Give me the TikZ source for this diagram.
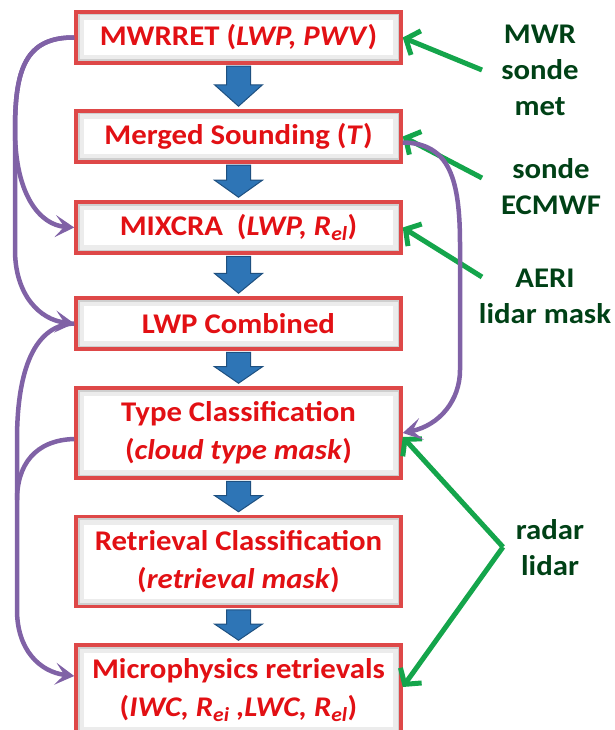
\documentclass[tikz,border=0pt]{standalone}
\usepackage{fontspec}
\setmainfont{Carlito}[FakeStretch=1.08]
\usetikzlibrary{arrows.meta, positioning, calc}
\usepackage{xcolor}
\definecolor{boxred}{RGB}{222,72,72}
\definecolor{txtred}{RGB}{226,16,20}
\definecolor{mblue}{RGB}{46,117,182}
\definecolor{dblue}{RGB}{30,80,128}
\definecolor{mgreen}{RGB}{20,165,75}
\definecolor{dgreen}{RGB}{0,65,22}
\definecolor{mpurple}{RGB}{128,98,166}

\begin{document}
\begin{tikzpicture}[x=1pt,y=1pt,
  box/.style={rectangle,draw=boxred,line width=3.5pt,fill=white,
              minimum width=325pt,minimum height=51pt,inner sep=2pt,align=center,
              font=\fontsize{28.5}{38}\selectfont\bfseries,text=txtred,
              path picture={
                \draw[gray!15,line width=16pt] (path picture bounding box.south west) rectangle (path picture bounding box.north east);
                \draw[gray!38,line width=7pt] (path picture bounding box.south west) rectangle (path picture bounding box.north east);}},
  tall/.style={box,minimum height=90pt},
  src/.style={font=\fontsize{28.5}{36}\selectfont\bfseries,text=dgreen,align=center},
  fatarr/.style={fill=mblue,draw=dblue,line width=1pt},
  garr/.style={-{Straight Barb[length=11pt,width=26pt]},mgreen,line width=5pt},
  parr/.style={-{Stealth[length=19pt,width=22pt,inset=9pt]},mpurple,line width=4.5pt}
]
\useasboundingbox (0,0) rectangle (615,-730);

% processing chain
\node[box]  (mwr)   at (238.5,-37.5) {MWRRET (\textit{LWP, PWV})};
\node[box]  (merge) at (238.5,-136.5) {Merged Sounding (\textit{T})};
\node[box]  (mix)   at (238.5,-227.5) {MIXCRA\ \ (\textit{LWP, R\textsubscript{el}})};
\node[box]  (comb)  at (238.5,-323.5) {LWP Combined};
\node[tall] (type)  at (238.5,-433) {Type Classification\\(\textit{cloud type mask})};
\node[tall] (retr)  at (238.5,-561.5) {Retrieval Classification\\(\textit{retrieval mask})};
\node[tall] (micro) at (238.5,-690) {Microphysics retrievals\\(\textit{IWC, R\textsubscript{ei} ,LWC, R\textsubscript{el}})};

\foreach \a/\b in {mwr/merge,merge/mix,mix/comb,comb/type,type/retr,retr/micro}
  \draw[fatarr] ($(\a.south)+(-12,-1.5)$) -- ($(\a.south)!0.45!(\b.north)+(-12,0)$) -- ++(-12,0)
    -- ($(\b.north)+(0,3)$) -- ($(\a.south)!0.45!(\b.north)+(24,0)$) -- ++(-12,0)
    -- ($(\a.south)+(12,-1.5)$) -- cycle;

% instruments
\node[src] (l1) at (540,-70)  {MWR\\sonde\\met};
\node[src] (l2) at (551,-187) {sonde\\ECMWF};
\node[src] (l3) at (545,-296) {AERI\\lidar mask};
\node[src] (l4) at (550,-548) {radar\\lidar};

\coordinate (g1) at (482,-70);
\coordinate (g2) at (482,-178);
\coordinate (g3) at (482,-277);
\coordinate (g4) at (503,-547);
\draw[garr] (g1) -- (mwr.east);
\draw[garr] (g2) -- (merge.east);
\draw[garr] (g3) -- (mix.east);
\draw[garr] (g4) -- ([yshift=-4]type.east);
\draw[garr] (g4) -- ([yshift=3]micro.east);

% products passed on
\draw[parr] (mwr.west) .. controls (25,-37) and (15,-70) .. (15,-130)
  .. controls (15,-195) and (40,-225) .. (mix.west);
\draw[parr] (mwr.west) .. controls (25,-37) and (15,-70) .. (15,-130) -- (15,-250)
  .. controls (15,-295) and (40,-320) .. (comb.west);
\coordinate (join) at (17,-500);
\draw[parr] (comb.west) .. controls (30,-325) and (17,-380) .. (17,-440) -- (17,-610)
  .. controls (17,-650) and (40,-672) .. ([yshift=14]micro.west);
\draw[mpurple,line width=4.5pt] ([yshift=-6]type.west) .. controls (35,-440) and (17,-465) .. (join);
\draw[parr] ([yshift=-6]merge.east) .. controls (450,-143) and (460,-180) .. (460,-245) -- (460,-370)
  .. controls (460,-400) and (440,-425) .. (type.east);
\end{tikzpicture}
\end{document}
